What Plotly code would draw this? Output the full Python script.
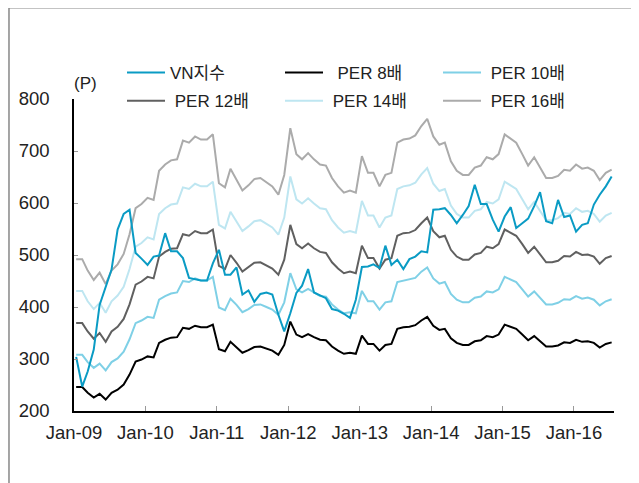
import plotly.graph_objects as go

# ---- data (monthly, Jan 2009 - Jul 2016) ----
dates = [f"{2009 + i // 12}-{i % 12 + 1:02d}-12" for i in range(91)]

vn_index = [304, 247, 276, 318, 404, 440, 472, 549, 579, 587,
            504, 493, 481, 497, 499, 542, 507, 507, 494, 456,
            453, 451, 451, 484, 510, 462, 462, 476, 424, 432,
            410, 425, 428, 424, 385, 353, 388, 427, 441, 473,
            428, 422, 417, 396, 393, 387, 379, 414, 477, 478,
            482, 475, 518, 481, 491, 473, 492, 497, 507, 505,
            587, 588, 590, 577, 561, 577, 594, 635, 598, 598,
            568, 545, 574, 592, 552, 561, 570, 594, 621, 565,
            561, 606, 573, 576, 545, 558, 561, 597, 616, 632, 651]

per8 = [246, 246, 235, 226, 233, 222, 235, 241, 251, 270,
        295, 299, 305, 303, 331, 337, 341, 342, 360, 358,
        364, 361, 361, 366, 319, 315, 333, 323, 312, 317,
        323, 324, 320, 316, 308, 327, 372, 347, 342, 348,
        342, 337, 336, 324, 316, 310, 312, 310, 345, 329,
        329, 316, 327, 329, 358, 361, 362, 365, 374, 381,
        364, 356, 358, 340, 331, 327, 327, 334, 336, 344,
        342, 347, 366, 362, 358, 347, 336, 344, 334, 324,
        324, 326, 332, 331, 337, 333, 334, 331, 322, 329, 332]

per10 = [308, 308, 294, 283, 291, 278, 294, 301, 314, 338,
         369, 374, 381, 379, 414, 421, 426, 428, 450, 448,
         455, 451, 451, 458, 399, 394, 416, 404, 390, 396,
         404, 405, 400, 395, 385, 409, 465, 434, 428, 435,
         428, 421, 420, 405, 395, 388, 390, 388, 431, 411,
         411, 395, 409, 411, 448, 451, 453, 456, 468, 476,
         455, 445, 448, 425, 414, 409, 409, 418, 420, 430,
         428, 434, 458, 453, 448, 434, 420, 430, 418, 405,
         405, 408, 415, 414, 421, 416, 418, 414, 403, 411, 415]

per12 = [369, 369, 353, 339, 350, 333, 353, 362, 377, 405,
         443, 449, 458, 455, 497, 506, 512, 513, 540, 537,
         546, 542, 542, 549, 479, 473, 500, 485, 468, 476,
         485, 486, 480, 474, 462, 491, 558, 521, 513, 522,
         513, 506, 504, 486, 474, 465, 468, 465, 518, 494,
         494, 474, 491, 494, 537, 542, 543, 548, 561, 572,
         546, 534, 537, 510, 497, 491, 491, 501, 504, 516,
         513, 521, 549, 543, 537, 521, 504, 516, 501, 486,
         486, 489, 498, 497, 506, 500, 501, 497, 483, 494, 498]

per14 = [431, 431, 411, 396, 408, 389, 411, 422, 439, 473,
         516, 523, 534, 530, 579, 590, 597, 599, 630, 627,
         637, 632, 632, 641, 558, 551, 583, 565, 546, 555,
         565, 567, 560, 553, 539, 572, 651, 607, 599, 609,
         599, 590, 588, 567, 553, 543, 546, 543, 604, 576,
         576, 553, 572, 576, 627, 632, 634, 639, 655, 667,
         637, 623, 627, 595, 579, 572, 572, 585, 588, 602,
         599, 607, 641, 634, 627, 607, 588, 602, 585, 567,
         567, 571, 581, 579, 590, 583, 585, 579, 564, 576, 581]

per16 = [492, 492, 470, 452, 466, 444, 470, 482, 502, 540,
         590, 598, 610, 606, 662, 674, 682, 684, 720, 716,
         728, 722, 722, 732, 638, 630, 666, 646, 624, 634,
         646, 648, 640, 632, 616, 654, 744, 694, 684, 696,
         684, 674, 672, 648, 632, 620, 624, 620, 690, 658,
         658, 632, 654, 658, 716, 722, 724, 730, 748, 762,
         728, 712, 716, 680, 662, 654, 654, 668, 672, 688,
         684, 694, 732, 724, 716, 694, 672, 688, 668, 648,
         648, 652, 664, 662, 674, 666, 668, 662, 644, 658, 664]

x_tick_vals = ["2009-01-01", "2010-01-01", "2011-01-01", "2012-01-01",
               "2013-01-01", "2014-01-01", "2015-01-01", "2016-01-01"]
x_tick_text = ["Jan-09", "Jan-10", "Jan-11", "Jan-12",
               "Jan-13", "Jan-14", "Jan-15", "Jan-16"]
y_tick_vals = [200, 300, 400, 500, 600, 700, 800]

FONT = "Liberation Sans, Arial, Noto Sans CJK KR, sans-serif"
NB = "\u00a0"

series = [
    # name, values, color, legend, rank
    (NB + NB + "PER 8배", per8, "#000000", "legend", 2),
    (NB + "PER 10배", per10, "#7FD0E6", "legend", 3),
    (NB + "PER 12배", per12, "#606060", "legend2", 1),
    (NB + "PER 14배", per14, "#BEE6F1", "legend2", 2),
    (NB + "PER 16배", per16, "#ABABAB", "legend2", 3),
    ("VN지수", vn_index, "#0A9BC4", "legend", 1),
]

fig = go.Figure()
for name, vals, color, leg, rank in series:
    fig.add_trace(go.Scatter(
        x=dates, y=vals, mode="lines", name=name,
        line=dict(color=color, width=2),
        legend=leg, legendrank=rank, legendwidth=105,
        hoverinfo="skip",
    ))

legend_common = dict(
    orientation="h", xanchor="left", yanchor="top",
    bgcolor="rgba(0,0,0,0)", borderwidth=0,
    font=dict(family=FONT, size=17, color="#222222"),
    itemwidth=38, traceorder="normal", itemclick=False,
)

fig.update_layout(
    width=631, height=475,
    margin=dict(l=66, r=25, t=91, b=72, autoexpand=False),
    paper_bgcolor="white", plot_bgcolor="white",
    font=dict(family=FONT, size=17, color="#222222"),
    showlegend=True,
    legend=dict(x=0.0889, y=1.1415, **legend_common),
    legend2=dict(x=0.0889, y=1.0508, **legend_common),
    xaxis=dict(
        type="date", range=["2009-01-01", "2016-07-24"],
        tickmode="array", tickvals=x_tick_vals, ticktext=x_tick_text,
        ticks="inside", ticklen=5, tickwidth=1, tickcolor="#999999",
        showline=True, linecolor="#000000", linewidth=1.5,
        showgrid=False, zeroline=False, automargin=False,
        tickfont=dict(family=FONT, size=18.5, color="#222222"),
        ticklabelstandoff=4,
    ),
    yaxis=dict(
        range=[200, 800], tickmode="array", tickvals=y_tick_vals,
        ticks="inside", ticklen=4, tickwidth=1, tickcolor="#999999",
        showline=True, linecolor="#000000", linewidth=1.5,
        showgrid=False, zeroline=False, automargin=False,
        tickfont=dict(family=FONT, size=18.5, color="#222222"),
        ticklabelstandoff=19,
    ),
    annotations=[dict(
        text="(P)", xref="paper", yref="paper", x=0.0222, y=1.049,
        xanchor="center", yanchor="middle", showarrow=False,
        font=dict(family=FONT, size=17, color="#222222"),
    )],
    shapes=[dict(
        type="path", xref="paper", yref="paper",
        path="M -0.1204,-0.3 L -0.1204,1.2926 L 1.0407,1.2926 L 1.0407,-0.3",
        line=dict(color="#888888", width=1.5),
    )],
)

fig.write_html("out.html")
